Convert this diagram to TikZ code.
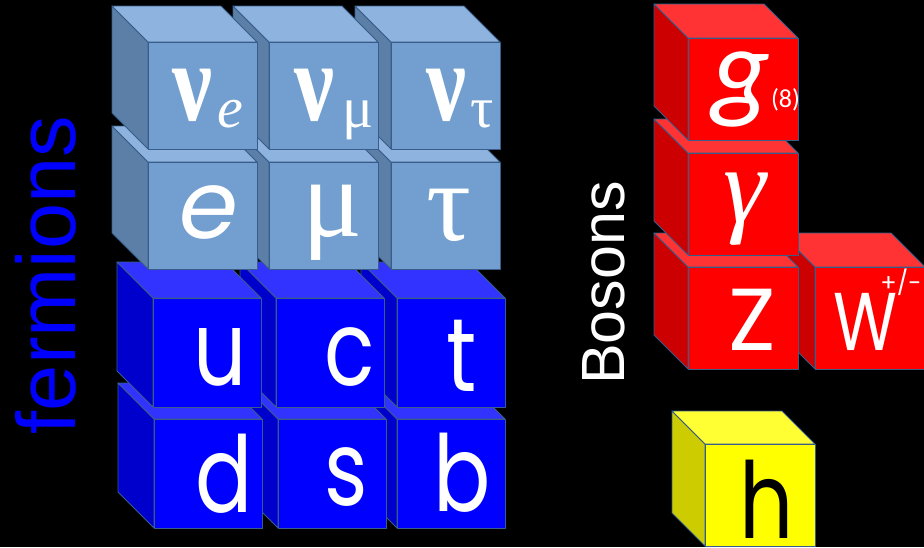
\documentclass[tikz,border=0pt]{standalone}
\usepackage{fontspec}
\setmainfont{Liberation Sans}
\newfontfamily\handfont{Poppins}
\newfontfamily\calfont{Carlito}
\newfontfamily\greekfont{Liberation Serif}
\definecolor{edgeblue}{RGB}{56,93,138}
\definecolor{lepfront}{RGB}{114,159,207}
\definecolor{leptop}{RGB}{141,179,222}
\definecolor{lepside}{RGB}{91,127,166}
\definecolor{quarkfront}{RGB}{0,0,255}
\definecolor{quarktop}{RGB}{51,51,255}
\definecolor{quarkside}{RGB}{0,0,204}
\definecolor{bosfront}{RGB}{255,0,0}
\definecolor{bostop}{RGB}{255,51,51}
\definecolor{bosside}{RGB}{204,0,0}
\definecolor{higgsfront}{RGB}{255,255,0}
\definecolor{higgstop}{RGB}{255,255,51}
\definecolor{higgsside}{RGB}{204,204,0}
\definecolor{fermblue}{RGB}{0,0,255}

\tikzset{
  cubeedge/.style={draw=edgeblue, line width=0.9pt, line join=round},
  partlabel/.style={anchor=base, text=white, inner sep=0pt},
  tallletter/.style={text height=80pt, text depth=0pt},
}

% front face top-left (#1,#2), width #3, height #4, depth #5, colour prefix #6
\newcommand{\drawcube}[6]{%
  \filldraw[cubeedge, fill=#6side] (#1,#2) -- ++(-#5,-#5) -- ++(0,#4) -- ++(#5,#5) -- cycle;
  \filldraw[cubeedge, fill=#6top] (#1,#2) -- ++(-#5,-#5) -- ++(#3,0) -- ++(#5,#5) -- cycle;
  \filldraw[cubeedge, fill=#6front] (#1,#2) rectangle ++(#3,#4);
}
\newcommand{\narrow}[1]{\scalebox{0.8}[1]{#1}}

\begin{document}
\begin{tikzpicture}[x=1pt,y=-1pt]
\useasboundingbox (0,0) rectangle (924,547);
\clip (0,0) rectangle (924,547);
\fill[black] (0,0) rectangle (924,547);

% quarks
\foreach \x/\y in {397/419, 278/419, 154/419, 397/298, 276/298, 153/298}
  \drawcube{\x}{\y}{108}{109}{36}{quark};
% leptons
\foreach \x/\y in {391/162, 269/162, 148/162, 391/42, 269/42, 148/42}
  \drawcube{\x}{\y}{109}{107}{36}{lep};
% bosons
\foreach \x/\y in {815/267, 688/267, 688/153, 688/38}
  \drawcube{\x}{\y}{110}{102}{34}{bos};
\drawcube{705}{444}{110}{102}{33}{higgs}

% labels
\node[partlabel, font=\greekfont\fontsize{112}{112}\selectfont] (nue) at (208,120)
  {\narrow{\bfseries ν}\kern5pt\raisebox{-7pt}{\fontsize{58}{58}\selectfont\itshape e}};
\node[partlabel, font=\greekfont\fontsize{112}{112}\selectfont] (numu) at (334,120)
  {\narrow{\bfseries ν}\kern8pt\raisebox{-7pt}{\fontsize{58}{58}\selectfont μ}};
\node[partlabel, font=\greekfont\fontsize{112}{112}\selectfont] (nutau) at (460,120)
  {\narrow{\bfseries ν}\kern4pt\raisebox{-7pt}{\fontsize{58}{58}\selectfont τ}};
\node[partlabel, font=\handfont\fontsize{95}{95}\selectfont] (elec) at (209,238) {\itshape e};
\node[partlabel, font=\greekfont\fontsize{112}{112}\selectfont] (muon) at (333,236) {μ};
\node[partlabel, font=\greekfont\fontsize{112}{112}\selectfont] (tauon) at (449,240) {τ};

\node[partlabel, font=\handfont\fontsize{104}{104}\selectfont] (up) at (220,385) {\narrow{u}};
\node[partlabel, font=\handfont\fontsize{104}{104}\selectfont] (charm) at (350,385) {\narrow{c}};
\node[partlabel, font=\handfont\fontsize{104}{104}\selectfont] (top) at (462,391) {\narrow{t}};
\node[partlabel, tallletter, font=\handfont\fontsize{106}{106}\selectfont] (down) at (224,512) {\narrow{d}};
\node[partlabel, font=\handfont\fontsize{104}{104}\selectfont] (strange) at (346,505) {\narrow{s}};
\node[partlabel, tallletter, font=\handfont\fontsize{106}{106}\selectfont] (bottom) at (462,511) {\narrow{b}};

\node[partlabel, font=\calfont\itshape\fontsize{115}{115}\selectfont] (gluon) at (756,107)
  {g{\upshape\fontsize{26}{26}\selectfont(8)}};
\node[partlabel, font=\greekfont\itshape\fontsize{108}{108}\selectfont] (photon) at (745,222) {γ};
\node[partlabel, font=\handfont\fontsize{88}{88}\selectfont] (zbos) at (752,350) {Z};
\node[partlabel, font=\handfont\fontsize{82}{82}\selectfont] (wbos) at (866,350) {\narrow{W}};
\node[partlabel, font=\handfont\fontsize{24}{24}\selectfont] (wcharge) at (901,291) {+/-};
\node[partlabel, tallletter, text=black, font=\handfont\fontsize{106}{106}\selectfont] (higgs) at (767,538) {\narrow{h}};

\node[anchor=base, rotate=90, inner sep=0pt, text=fermblue,
  font=\fontsize{83}{83}\selectfont] (fermions) at (75,275) {fermions};
\node[anchor=base, rotate=90, inner sep=0pt, text=white,
  font=\fontsize{61}{61}\selectfont] (bosons) at (624,283) {Bosons};
\end{tikzpicture}
\end{document}
